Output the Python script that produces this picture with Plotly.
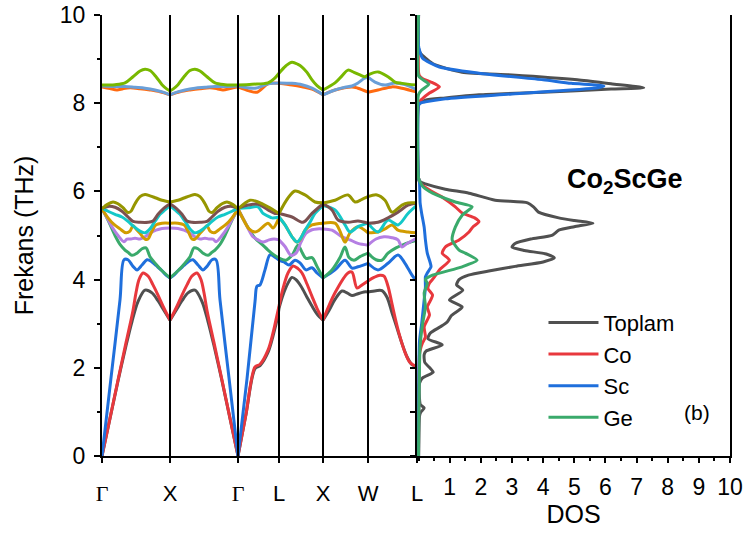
import plotly.graph_objects as go

# High-symmetry points along the phonon path (path-length units)
kpoint_labels = ["Γ", "X", "Γ", "L", "X", "W", "L"]
kpoint_pos = [0, 68, 136, 177, 221, 266, 315]

# Phonon branches: path position k and frequency f (THz)
b1_k = [0, 8, 16, 24, 30, 36, 43, 50, 56, 62, 68,
        74, 80, 86, 93, 100, 106, 112, 120, 128, 136,
        144, 153, 158, 166, 171, 176, 177,
        181, 186, 190, 194, 199, 205, 210, 215, 221,
        227, 233, 240, 245, 250, 256, 262, 266,
        274, 280, 285, 290, 295, 300, 305, 310, 315]
b1_f = [0, 0.85, 1.7, 2.5, 3.05, 3.5, 3.76, 3.7, 3.52, 3.3, 3.08,
        3.3, 3.52, 3.7, 3.76, 3.5, 3.05, 2.5, 1.7, 0.85, 0,
        0.95, 1.98, 2.05, 2.35, 2.72, 3.2, 3.35,
        3.65, 3.92, 4.05, 4.0, 3.85, 3.6, 3.4, 3.22, 3.08,
        3.3, 3.55, 3.74, 3.7, 3.64, 3.68, 3.72, 3.72,
        3.75, 3.75, 3.6, 3.25, 2.9, 2.55, 2.25, 2.07, 2.02]

b2_k = [0, 8, 16, 24, 31, 34, 37, 41, 46, 51, 56, 62, 68,
        74, 80, 85, 90, 95, 99, 102, 105, 112, 120, 128, 136,
        144, 153, 158, 166, 171, 176, 177,
        181, 186, 191, 196, 200, 205, 210, 215, 221,
        233, 246, 250, 255, 260, 266,
        272, 278, 282, 286, 290, 294, 298, 303, 308, 315]
b2_f = [0, 0.86, 1.72, 2.57, 3.3, 3.7, 4.0, 4.15, 4.08, 3.88, 3.65, 3.35, 3.08,
        3.35, 3.65, 3.88, 4.08, 4.15, 4.0, 3.7, 3.3, 2.57, 1.72, 0.86, 0,
        0.95, 2.02, 2.08, 2.4, 2.79, 3.3, 3.4,
        3.8, 4.15, 4.31, 4.25, 4.15, 3.9, 3.62, 3.35, 3.08,
        3.7, 4.15, 4.17, 3.81, 3.88, 3.97,
        4.05, 4.1, 4.08, 3.85, 3.45, 3.05, 2.7, 2.35, 2.12, 2.02]

b3_k = [0, 9, 18, 22, 26, 31, 35, 40, 45, 49, 54, 60, 64, 68,
        72, 76, 82, 87, 91, 96, 101, 105, 110, 114, 118, 127, 136,
        145, 153, 155, 158, 163, 168, 173, 177,
        182, 187, 193, 198, 204, 210, 215, 221,
        233, 243, 250, 256, 266,
        276, 286, 296, 303, 310, 315]
b3_f = [0, 1.77, 3.54, 4.45, 4.45, 4.3, 4.22, 4.33, 4.45, 4.42, 4.32, 4.2, 4.1, 4.04,
        4.1, 4.2, 4.32, 4.42, 4.45, 4.33, 4.22, 4.3, 4.45, 4.45, 3.54, 1.77, 0,
        1.75, 3.5, 3.85, 3.88, 4.22, 4.56, 4.51, 4.44,
        4.4, 4.33, 4.44, 4.38, 4.22, 4.27, 4.15, 4.04,
        4.22, 4.44, 4.26, 4.29, 4.37,
        4.22, 4.37, 4.56, 4.37, 4.1, 3.95]

b4_k = [0, 6, 13, 18, 23, 26, 30, 35, 40, 44, 48, 54, 60, 68,
        76, 82, 88, 92, 96, 101, 106, 110, 113, 118, 123, 130, 136,
        143, 153, 160, 166, 172, 177,
        184, 190, 196, 200, 204, 210, 215, 221,
        230, 238, 243, 247, 252, 258, 266,
        274, 280, 286, 294, 302, 310, 315]
b4_f = [5.6, 5.35, 5.0, 4.8, 4.67, 4.62, 4.55, 4.6, 4.7, 4.72, 4.52, 4.35, 4.2, 4.04,
        4.2, 4.35, 4.52, 4.72, 4.7, 4.6, 4.55, 4.62, 4.67, 4.8, 5.0, 5.35, 5.6,
        5.3, 4.94, 4.8, 4.67, 4.56, 4.49,
        4.44, 4.55, 4.78, 4.62, 4.48, 4.5, 4.3, 4.04,
        4.22, 4.5, 4.74, 4.5, 4.44, 4.52, 4.6,
        4.45, 4.44, 4.6, 4.72, 4.8, 4.86, 4.9]

b5_k = [0, 4, 10, 16, 22, 25, 29, 33, 38, 43, 48, 54, 60, 68,
        76, 82, 88, 93, 98, 103, 107, 111, 114, 120, 126, 132, 136,
        143, 151, 156, 161, 167, 172, 177,
        183, 189, 194, 199, 204, 210, 215, 221,
        230, 240, 248, 256, 266,
        274, 282, 290, 296, 300, 305, 310, 315]
b5_f = [5.6, 5.45, 5.2, 5.0, 4.86, 4.92, 4.92, 4.94, 4.92, 4.97, 5.05, 5.12, 5.16, 5.17,
        5.16, 5.12, 5.05, 4.97, 4.92, 4.94, 4.92, 4.92, 4.86, 5.0, 5.2, 5.45, 5.6,
        5.3, 4.97, 4.9, 4.85, 4.9, 4.92, 4.9,
        4.75, 4.55, 4.6, 4.85, 5.05, 5.13, 5.15, 5.15,
        5.12, 4.97, 4.9, 4.82, 4.78,
        4.92, 4.97, 4.95, 4.9, 4.74, 4.82, 4.88, 4.94]

b6_k = [0, 6, 12, 18, 24, 28, 31, 34, 38, 43, 46, 50, 54, 60, 68,
        76, 82, 86, 90, 93, 98, 102, 105, 108, 112, 118, 124, 130, 136,
        141, 147, 153, 157, 160, 166, 171, 175, 177,
        183, 188, 191, 195, 198, 203, 210, 221,
        233, 238, 243, 248, 256, 266,
        276, 283, 290, 296, 306, 315]
b6_f = [5.6, 5.4, 5.25, 5.15, 5.06, 5.1, 5.22, 5.15, 5.05, 4.92, 4.92, 5.1, 5.24, 5.28, 5.28,
        5.28, 5.24, 5.1, 4.92, 4.92, 5.05, 5.15, 5.22, 5.1, 5.06, 5.15, 5.25, 5.4, 5.6,
        5.38, 5.15, 5.08, 5.12, 5.18, 5.28, 5.17, 5.3, 5.42,
        5.24, 5.05, 4.94, 4.85, 4.9, 5.12, 5.24, 5.28,
        5.28, 5.1, 4.85, 5.06, 5.2, 5.06,
        5.08, 5.15, 5.24, 5.12, 5.08, 5.06]

b7_k = [0, 6, 13, 20, 26, 32, 38, 43, 48, 53, 58, 63, 68,
        73, 78, 83, 88, 93, 98, 104, 110, 116, 123, 130, 136,
        146, 156, 161, 166, 170, 177,
        183, 190, 195, 199, 203, 208, 213, 221,
        233, 243, 248, 256, 266,
        276, 286, 296, 306, 315]
b7_f = [5.62, 5.55, 5.48, 5.42, 5.32, 5.2, 5.1, 5.06, 5.15, 5.32, 5.48, 5.58, 5.68,
        5.58, 5.48, 5.32, 5.15, 5.06, 5.1, 5.2, 5.32, 5.42, 5.48, 5.55, 5.62,
        5.63, 5.65, 5.5, 5.44, 5.4, 5.42,
        5.24, 4.97, 4.85, 4.95, 5.12, 5.3, 5.5, 5.68,
        5.58, 5.24, 5.08, 5.2, 5.28,
        5.08, 5.35, 5.24, 5.5, 5.69]

b8_k = [0, 6, 13, 20, 26, 31, 38, 46, 51, 56, 62, 68,
        74, 80, 85, 90, 98, 105, 110, 116, 123, 130, 136,
        146, 156, 166, 173, 177,
        190, 201, 210, 221,
        230, 236, 246, 256, 266,
        276, 286, 296, 306, 315]
b8_f = [5.62, 5.66, 5.64, 5.55, 5.42, 5.32, 5.3, 5.3, 5.33, 5.48, 5.62, 5.72,
        5.62, 5.48, 5.33, 5.3, 5.3, 5.32, 5.42, 5.55, 5.64, 5.66, 5.62,
        5.69, 5.71, 5.58, 5.5, 5.5,
        5.42, 5.3, 5.5, 5.72,
        5.58, 5.35, 5.3, 5.33, 5.28,
        5.3, 5.4, 5.53, 5.69, 5.74]

b9_k = [0, 5, 11, 16, 21, 26, 29, 33, 38, 43, 48, 54, 60, 68,
        76, 82, 88, 93, 98, 103, 107, 110, 115, 120, 125, 131, 136,
        148, 156, 166, 177,
        186, 193, 203, 213, 221,
        233, 246, 253, 260, 266,
        275, 283, 290, 300, 306, 315]
b9_f = [5.6, 5.7, 5.76, 5.72, 5.63, 5.52, 5.55, 5.72, 5.88, 5.93, 5.9, 5.85, 5.8, 5.76,
        5.8, 5.85, 5.9, 5.93, 5.88, 5.72, 5.55, 5.52, 5.63, 5.72, 5.76, 5.7, 5.6,
        5.8, 5.76, 5.65, 5.5,
        5.85, 6.01, 5.92, 5.76, 5.74,
        5.8, 5.92, 5.76, 5.82, 5.88,
        5.92, 5.8, 5.53, 5.69, 5.74, 5.74]

b10_k = [0, 8, 15, 21, 28, 38, 48, 58, 68,
         78, 88, 98, 108, 115, 121, 128, 136,
         147, 155, 166, 177,
         190, 200, 210, 221,
         233, 250, 256, 266,
         276, 290, 300, 315]
b10_f = [8.37, 8.33, 8.3, 8.33, 8.35, 8.33, 8.3, 8.26, 8.19,
         8.26, 8.3, 8.33, 8.35, 8.33, 8.3, 8.33, 8.37,
         8.28, 8.25, 8.44, 8.45,
         8.41, 8.37, 8.32, 8.19,
         8.3, 8.37, 8.34, 8.25,
         8.3, 8.37, 8.34, 8.25]

b11_k = [0, 13, 23, 33, 43, 53, 61, 68,
         75, 83, 93, 103, 113, 123, 136,
         153, 166, 177,
         190, 200, 210, 221,
         233, 243, 250, 256, 262, 266,
         273, 283, 293, 303, 315]
b11_f = [8.39, 8.38, 8.38, 8.36, 8.34, 8.3, 8.25, 8.19,
         8.25, 8.3, 8.34, 8.36, 8.38, 8.38, 8.39,
         8.34, 8.44, 8.46,
         8.45, 8.42, 8.34, 8.19,
         8.3, 8.36, 8.39, 8.46, 8.56, 8.59,
         8.48, 8.41, 8.46, 8.42, 8.3]

b12_k = [0, 13, 23, 31, 38, 43, 48, 54, 60, 65, 68,
         71, 76, 82, 88, 93, 98, 105, 113, 123, 136,
         150, 166, 172, 177,
         184, 190, 196, 200, 205, 210, 215, 221,
         233, 240, 246, 252, 258, 263, 266,
         276, 286, 293, 300, 315]
b12_f = [8.41, 8.42, 8.46, 8.6, 8.73, 8.77, 8.74, 8.6, 8.42, 8.32, 8.28,
         8.32, 8.42, 8.6, 8.74, 8.77, 8.73, 8.6, 8.46, 8.42, 8.41,
         8.43, 8.46, 8.55, 8.68,
         8.85, 8.93, 8.88, 8.82, 8.7, 8.53, 8.4, 8.3,
         8.46, 8.62, 8.75, 8.7, 8.64, 8.6, 8.64,
         8.71, 8.6, 8.48, 8.45, 8.41]

branch_colors = ["#505050", "#e8383d", "#1f6fdc", "#3aaa6b", "#b57fe3", "#d19c00",
                 "#14c8c8", "#7b5151", "#969600", "#ff6a10", "#6a9fd8", "#78b800"]

# Phonon density of states: frequency (THz) and DOS
tot_f = [0, 0.9, 0.98, 1.09, 1.16, 1.3, 1.65, 1.77, 1.9, 2.0, 2.12, 2.3, 2.38, 2.52, 2.66,
         2.79, 2.93, 3.04, 3.18, 3.38, 3.54, 3.76, 3.88, 4.0, 4.1, 4.2, 4.3, 4.4, 4.49, 4.58,
         4.66, 4.74, 4.82, 4.92, 5.01, 5.12, 5.2, 5.28, 5.34, 5.4, 5.53, 5.65, 5.74, 5.8, 5.96,
         6.05, 6.17, 6.22, 6.3, 7.95, 8.0, 8.07, 8.12, 8.19, 8.25, 8.32, 8.35, 8.44, 8.53, 8.64,
         8.7, 8.9, 9.14, 9.25, 10]
tot_d = [0, 0.03, 0.06, 0.18, 0.06, 0.03, 0.03, 0.13, 0.47, 0.36, 0.2, 0.18, 0.24, 0.76, 0.3,
         0.38, 0.7, 0.92, 1.05, 1.4, 0.99, 1.42, 1.22, 1.3, 1.6, 2.3, 3.1, 4.0, 4.36, 4.1,
         3.4, 3.0, 3.1, 3.6, 4.3, 4.5, 5.0, 5.6, 5.0, 4.5, 3.85, 3.69, 3.5, 2.46, 1.62,
         0.86, 0.22, 0.05, 0, 0, 0.05, 0.22, 0.86, 1.94, 4.0, 6.18, 7.23, 6.18, 5.1, 3.0,
         1.4, 0.45, 0.05, 0, 0]

co_f = [0, 2.3, 2.42, 2.55, 2.7, 2.93, 3.2, 3.38, 3.55, 3.65, 3.8, 3.92, 4.05, 4.22, 4.44,
        4.6, 4.74, 4.9, 5.08, 5.2, 5.31, 5.4, 5.51, 5.65, 5.87, 6.03, 6.19, 6.3, 8.0, 8.1,
        8.23, 8.37, 8.48, 8.55, 8.62, 8.7, 10]
co_d = [0, 0.03, 0.06, 0.12, 0.22, 0.18, 0.35, 0.28, 0.4, 0.45, 0.3, 0.35, 0.5, 0.67, 0.99,
        0.76, 0.86, 1.3, 1.62, 1.75, 1.94, 1.8, 1.4, 1.18, 0.76, 0.35, 0.05, 0, 0, 0.12,
        0.35, 0.67, 0.4, 0.15, 0.03, 0, 0]

sc_f = [0, 2.6, 3.0, 3.54, 3.83, 4.06, 4.15, 4.29, 4.37, 4.6, 4.9, 5.19, 5.5, 5.74, 6.2,
        6.3, 7.95, 8.0, 8.03, 8.1, 8.21, 8.35, 8.39, 8.45, 8.53, 8.68, 8.82, 9.02, 9.2, 9.3, 10]
sc_d = [0, 0.03, 0.1, 0.18, 0.22, 0.22, 0.28, 0.4, 0.38, 0.28, 0.22, 0.18, 0.1, 0.05, 0.03,
        0, 0, 0.05, 0.22, 0.86, 3.0, 5.76, 5.95, 4.9, 4.0, 1.94, 0.67, 0.13, 0.03, 0, 0]

ge_f = [0, 2.5, 3.0, 3.38, 3.7, 3.92, 4.0, 4.1, 4.29, 4.44, 4.6, 4.67, 4.9, 5.19, 5.46,
        5.65, 5.76, 5.96, 6.1, 6.21, 6.3, 8.2, 8.3, 8.43, 8.55, 8.62, 10]
ge_d = [0, 0.05, 0.13, 0.22, 0.18, 0.28, 0.22, 0.45, 1.4, 1.88, 1.5, 1.3, 1.08, 1.18, 1.4,
        1.72, 1.18, 0.45, 0.15, 0.05, 0, 0, 0.1, 0.33, 0.1, 0, 0]

dos_names = ["Toplam", "Co", "Sc", "Ge"]
dos_colors = ["#505050", "#e8383d", "#1f6fdc", "#3aaa6b"]
dos_ticks = list(range(1, 11))

FONT = "Liberation Sans, Arial, sans-serif"
SERIF = "Liberation Serif, Times New Roman, serif"

fig = go.Figure()

branches = [(b1_k, b1_f), (b2_k, b2_f), (b3_k, b3_f), (b4_k, b4_f), (b5_k, b5_f), (b6_k, b6_f),
            (b7_k, b7_f), (b8_k, b8_f), (b9_k, b9_f), (b10_k, b10_f), (b11_k, b11_f), (b12_k, b12_f)]

# each branch is drawn segment by segment so the high-symmetry points keep their cusps
for (ks, fs), col in zip(branches, branch_colors):
    for a, b in zip(kpoint_pos[:-1], kpoint_pos[1:]):
        seg = [(k, f) for k, f in zip(ks, fs) if a <= k <= b]
        fig.add_trace(go.Scatter(
            x=[p[0] for p in seg], y=[p[1] for p in seg], mode="lines",
            line=dict(color=col, width=3, shape="spline", smoothing=0.9),
            showlegend=False, hoverinfo="skip", xaxis="x", yaxis="y"))

for name, col, dd, ff in zip(dos_names, dos_colors,
                             [tot_d, co_d, sc_d, ge_d], [tot_f, co_f, sc_f, ge_f]):
    fig.add_trace(go.Scatter(
        x=dd, y=ff, mode="lines", name=name,
        line=dict(color=col, width=3, shape="spline", smoothing=0.6),
        xaxis="x2", yaxis="y2"))

# vertical separators at the interior high-symmetry points
for p in kpoint_pos[1:-1]:
    fig.add_shape(type="line", xref="x", yref="y", x0=p, x1=p, y0=0, y1=10,
                  line=dict(color="black", width=2))

tick_text = [f'<span style="font-family:{SERIF}">{t}</span>' if t == "Γ" else t
             for t in kpoint_labels]

split = (417 - 102) / 628

fig.update_layout(
    width=749, height=539,
    margin=dict(l=102, r=19, t=15, b=83, autoexpand=False),
    paper_bgcolor="white", plot_bgcolor="white",
    font=dict(family=FONT, size=23, color="black"),
    xaxis=dict(domain=[0, split], range=[0, 315], tickmode="array",
               tickvals=kpoint_pos, ticktext=tick_text, automargin=False,
               showline=True, linecolor="black", linewidth=2,
               ticks="outside", ticklen=5, tickwidth=2, tickcolor="black",
               ticklabelstandoff=12, showgrid=False, zeroline=False,
               tickfont=dict(size=22)),
    yaxis=dict(domain=[0, 1], range=[0, 10], tickmode="linear", tick0=0, dtick=2,
               automargin=False,
               showline=True, linecolor="black", linewidth=2,
               ticks="outside", ticklen=6, tickwidth=2, tickcolor="black",
               minor=dict(dtick=1, tick0=0, ticks="outside", ticklen=3, tickwidth=1.5,
                          tickcolor="black"),
               ticklabelstandoff=4, showgrid=False, zeroline=False,
               tickfont=dict(size=23),
               title=dict(text="Frekans (THz)", font=dict(size=25), standoff=19)),
    xaxis2=dict(domain=[split, 1], anchor="y2", range=[-0.05, 10], tickmode="array",
                tickvals=dos_ticks, ticktext=[str(v) for v in dos_ticks], automargin=False,
                showline=True, linecolor="black", linewidth=2,
                ticks="outside", ticklen=5, tickwidth=2, tickcolor="black",
                minor=dict(dtick=0.5, tick0=0, ticks="outside", ticklen=3, tickwidth=1.5,
                           tickcolor="black"),
                ticklabelstandoff=4, showgrid=False, zeroline=False,
                tickfont=dict(size=23),
                title=dict(text="DOS", font=dict(size=25), standoff=2)),
    yaxis2=dict(domain=[0, 1], anchor="x2", range=[0, 10], tickmode="linear", dtick=1,
                automargin=False,
                showline=True, mirror=True, linecolor="black", linewidth=2,
                ticks="outside", ticklen=5, tickwidth=2, tickcolor="black",
                showticklabels=False, showgrid=False, zeroline=False,
                layer="below traces"),
    legend=dict(x=0.703, y=0.35, xanchor="left", yanchor="top",
                bgcolor="rgba(0,0,0,0)", font=dict(size=22), itemwidth=50,
                tracegroupgap=0),
    annotations=[
        dict(text="<b>Co<sub>2</sub>ScGe</b>", xref="paper", yref="paper",
             x=(625 - 102) / 628, y=(456 - 181) / 441, xanchor="center", yanchor="middle",
             showarrow=False, font=dict(size=27, family=FONT)),
        dict(text="(b)", xref="paper", yref="paper",
             x=(697 - 102) / 628, y=(456 - 412) / 441, xanchor="center", yanchor="middle",
             showarrow=False, font=dict(size=21, family=FONT)),
    ],
)

fig.write_html("out.html")
